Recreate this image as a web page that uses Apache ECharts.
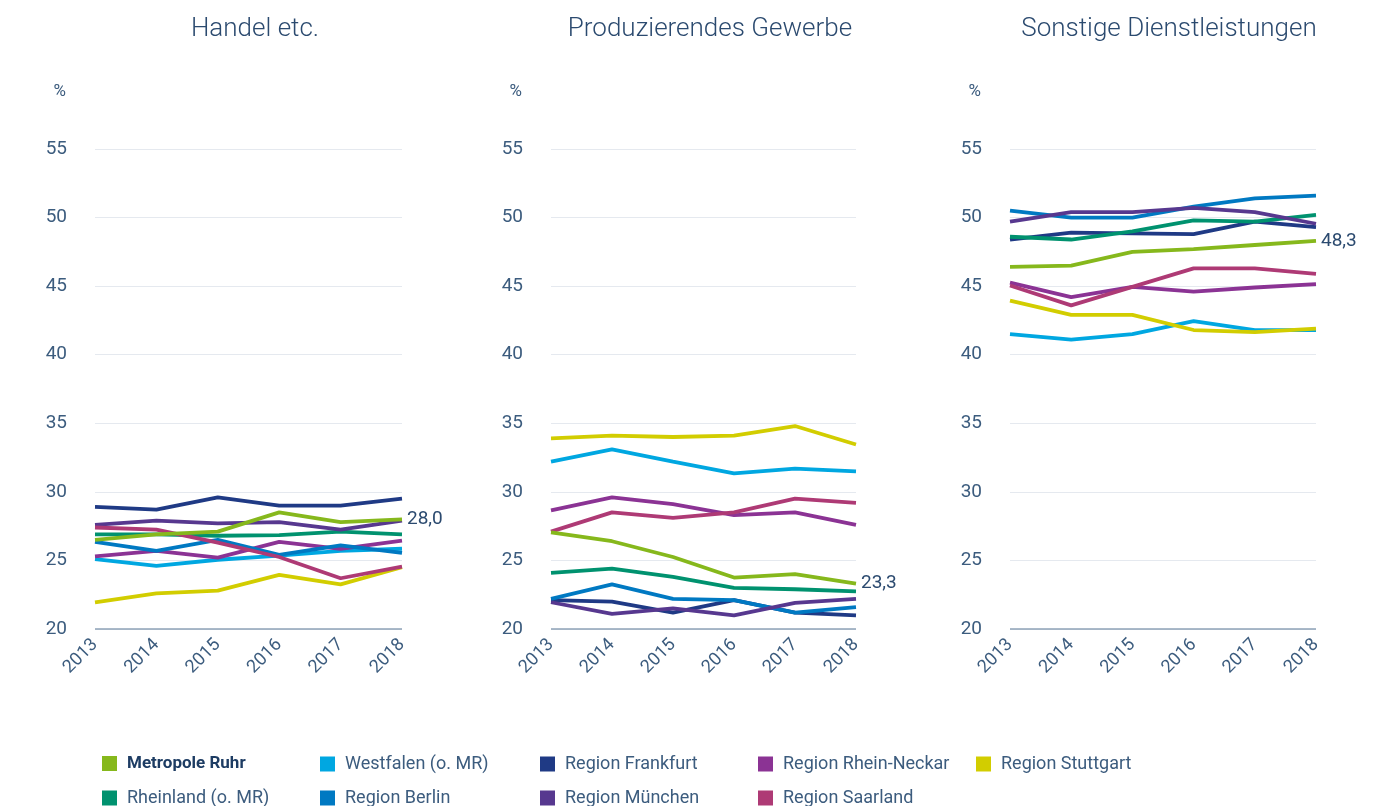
<!DOCTYPE html>
<html>
<head>
<meta charset="utf-8">
<script src="https://cdn.jsdelivr.net/npm/echarts@6/dist/echarts.min.js"></script>
<style>
html,body{margin:0;padding:0;background:#fff;}
#c{width:1389px;height:806px;}
</style>
</head>
<body>
<div id="c"></div>
<script>
const years = ['2013','2014','2015','2016','2017','2018'];
const panelTitles = ['Handel etc.', 'Produzierendes Gewerbe', 'Sonstige Dienstleistungen'];
const yTicks = [20, 25, 30, 35, 40, 45, 50, 55];
const regions = ['Metropole Ruhr','Westfalen (o. MR)','Region Frankfurt','Region Rhein-Neckar','Region Stuttgart','Rheinland (o. MR)','Region Berlin','Region München','Region Saarland'];
const colors = ['#86b81c','#00a7e1','#1f3a85','#8b3394','#d2cd00','#00926f','#0079c2','#57388f','#ae3a75'];

// Handel etc.
const handel = {
  'Metropole Ruhr':      [26.5, 26.9, 27.1, 28.5, 27.8, 28.0],
  'Westfalen (o. MR)':   [25.1, 24.6, 25.05, 25.35, 25.7, 25.85],
  'Region Frankfurt':    [28.9, 28.7, 29.6, 29.0, 29.0, 29.5],
  'Region Rhein-Neckar': [25.3, 25.7, 25.2, 26.35, 25.85, 26.45],
  'Region Stuttgart':    [21.95, 22.6, 22.8, 23.95, 23.25, 24.5],
  'Rheinland (o. MR)':   [26.9, 26.9, 26.8, 26.85, 27.1, 26.9],
  'Region Berlin':       [26.35, 25.7, 26.5, 25.4, 26.1, 25.55],
  'Region München':      [27.6, 27.9, 27.7, 27.8, 27.25, 27.9],
  'Region Saarland':     [27.4, 27.25, 26.3, 25.25, 23.7, 24.55]
};
// Produzierendes Gewerbe
const produzierend = {
  'Metropole Ruhr':      [27.05, 26.4, 25.25, 23.75, 24.0, 23.3],
  'Westfalen (o. MR)':   [32.2, 33.1, 32.2, 31.35, 31.7, 31.5],
  'Region Frankfurt':    [22.1, 22.0, 21.2, 22.1, 21.2, 21.0],
  'Region Rhein-Neckar': [28.65, 29.6, 29.1, 28.3, 28.5, 27.6],
  'Region Stuttgart':    [33.9, 34.1, 34.0, 34.1, 34.8, 33.45],
  'Rheinland (o. MR)':   [24.1, 24.4, 23.8, 23.0, 22.9, 22.75],
  'Region Berlin':       [22.2, 23.25, 22.2, 22.1, 21.2, 21.6],
  'Region München':      [21.95, 21.1, 21.5, 21.0, 21.9, 22.2],
  'Region Saarland':     [27.1, 28.5, 28.1, 28.5, 29.5, 29.2]
};
// Sonstige Dienstleistungen
const dienst = {
  'Metropole Ruhr':      [46.4, 46.5, 47.5, 47.7, 48.0, 48.3],
  'Westfalen (o. MR)':   [41.5, 41.1, 41.5, 42.45, 41.8, 41.8],
  'Region Frankfurt':    [48.4, 48.9, 48.85, 48.8, 49.7, 49.3],
  'Region Rhein-Neckar': [45.25, 44.2, 44.95, 44.6, 44.9, 45.15],
  'Region Stuttgart':    [43.95, 42.9, 42.9, 41.8, 41.65, 41.9],
  'Rheinland (o. MR)':   [48.6, 48.4, 49.0, 49.8, 49.7, 50.2],
  'Region Berlin':       [50.5, 50.0, 50.0, 50.8, 51.4, 51.6],
  'Region München':      [49.7, 50.4, 50.4, 50.7, 50.4, 49.55],
  'Region Saarland':     [45.05, 43.6, 44.95, 46.3, 46.3, 45.9]
};
const panels = [handel, produzierend, dienst];

const FONT = 'Roboto, "Noto Sans", sans-serif';
const txt = '#3c5c7e';
const gridLefts = [95, 551, 1010];
const gridWidths = [307, 305, 306];
const titleCenters = [255, 710, 1169];

const grid = [], xAxis = [], yAxis = [], title = [], series = [];
panels.forEach((p, i) => {
  grid.push({left: gridLefts[i], width: gridWidths[i], top: 149, height: 480});
  title.push({
    text: panelTitles[i], left: titleCenters[i], top: 16,
    textAlign: 'center', padding: 0,
    textStyle: {fontFamily: FONT, fontWeight: 300, fontSize: 26, color: '#2b4a6f'}
  });
  xAxis.push({
    type: 'category', gridIndex: i, data: years, boundaryGap: false,
    axisLine: {show: false}, axisTick: {show: false},
    axisLabel: {rotate: 45, fontFamily: FONT, fontSize: 18, color: txt, margin: 13}
  });
  yAxis.push({
    type: 'value', gridIndex: i, min: 20, max: 55, interval: 5,
    name: '%', nameLocation: 'end', nameGap: 49,
    nameTextStyle: {fontFamily: FONT, fontSize: 17, color: txt, align: 'right', padding: [0, 29, 0, 0]},
    axisLine: {show: false}, axisTick: {show: false},
    axisLabel: {fontFamily: FONT, fontSize: 19, color: txt, margin: 28},
    splitLine: {show: true, lineStyle: {color: '#e5e9ef', width: 1}}
  });
  regions.forEach((r, k) => {
    const isRuhr = r === 'Metropole Ruhr';
    series.push({
      name: r, type: 'line', xAxisIndex: i, yAxisIndex: i,
      data: p[r], showSymbol: false, symbol: 'none',
      lineStyle: {width: 3.8, color: colors[k]}, itemStyle: {color: colors[k]},
      z: isRuhr ? 5 : 2,
      silent: true,
      endLabel: isRuhr ? {
        show: true, distance: 5,
        formatter: q => Number(q.value).toFixed(1).replace('.', ','),
        fontFamily: FONT, fontSize: 19, color: '#2b4a6f'
      } : {show: false}
    });
  });
  // baseline at 20
  series.push({
    type: 'line', xAxisIndex: i, yAxisIndex: i, data: [], silent: true,
    markLine: {symbol: 'none', silent: true, label: {show: false},
      lineStyle: {color: '#8ea2b7', type: 'solid', width: 1.5},
      data: [{yAxis: 20}]}
  });
});

// legend: one entry per legend component, laid out in a 5-column grid
const colX = [102, 320, 540, 758, 976];
const rowY = [755, 789];
const legend = regions.map((r, k) => {
  const row = k < 5 ? 0 : 1;
  const col = k < 5 ? k : k - 5;
  const isRuhr = r === 'Metropole Ruhr';
  return {
    data: [r], icon: 'rect', itemWidth: 15, itemHeight: 15,
    left: colX[col], top: rowY[row], padding: 0, selectedMode: true,
    textStyle: {
      fontFamily: FONT, fontSize: isRuhr ? 17 : 18,
      fontWeight: isRuhr ? 'bold' : 'normal',
      color: isRuhr ? '#1d3c63' : txt, padding: [0, 0, 0, 5]
    }
  };
});

const chart = echarts.init(document.getElementById('c'), null, {renderer: 'canvas'});
chart.setOption({
  animation: false,
  color: colors,
  title, grid, xAxis, yAxis, legend, series
});
</script>
</body>
</html>
